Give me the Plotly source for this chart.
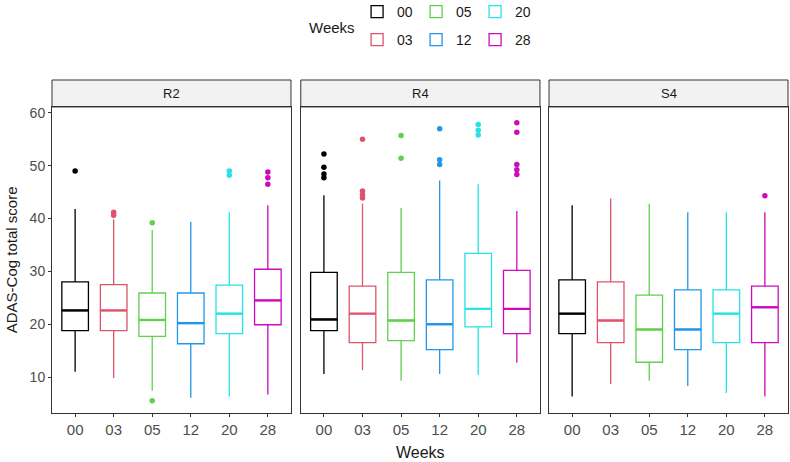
import plotly.graph_objects as go

weeks = ["00", "03", "05", "12", "20", "28"]
panels = ["R2", "R4", "S4"]
colors = ["#000000", "#DF536B", "#61D04F", "#2297E6", "#28E2E5", "#CD0BBC"]

# box stats per panel, one value per week
q1 = {
    "R2": [18.8, 18.8, 17.7, 16.3, 18.2, 19.9],
    "R4": [18.8, 16.5, 16.9, 15.2, 19.5, 18.2],
    "S4": [18.2, 16.5, 12.8, 15.2, 16.5, 16.5],
}
med = {
    "R2": [22.6, 22.6, 20.8, 20.2, 22.0, 24.5],
    "R4": [20.9, 22.0, 20.7, 20.0, 22.9, 22.9],
    "S4": [22.0, 20.7, 19.0, 19.0, 22.0, 23.2],
}
q3 = {
    "R2": [28.0, 27.5, 25.9, 25.9, 27.4, 30.4],
    "R4": [29.8, 27.2, 29.8, 28.4, 33.4, 30.2],
    "S4": [28.4, 28.0, 25.5, 26.5, 26.5, 27.2],
}
lo = {
    "R2": [11.0, 9.8, 7.4, 6.1, 6.3, 6.7],
    "R4": [10.6, 11.3, 9.3, 10.6, 10.4, 12.7],
    "S4": [6.3, 8.7, 9.3, 8.3, 7.0, 6.3],
}
hi = {
    "R2": [41.8, 39.8, 37.8, 39.4, 41.2, 42.5],
    "R4": [44.4, 42.8, 42.0, 47.2, 46.5, 41.4],
    "S4": [42.5, 43.8, 42.8, 41.2, 41.2, 41.2],
}
outliers = {
    "R2": [[49.0], [41.2, 40.6], [39.2, 5.5], [], [49.0, 48.2], [48.8, 47.7, 46.5]],
    "R4": [[52.2, 49.7, 48.4, 47.7], [55.0, 45.2, 44.5, 43.9], [55.7, 51.4],
           [57.0, 51.1, 50.2], [57.8, 56.7, 55.8], [58.1, 56.3, 50.2, 49.2, 48.3]],
    "S4": [[], [], [], [], [], [44.3]],
}

FONT = "Liberation Sans, Arial, sans-serif"
BOX_W = 0.69
fig = go.Figure()

for p_i, p in enumerate(panels):
    xa = "x" if p_i == 0 else f"x{p_i + 1}"
    ya = "y" if p_i == 0 else f"y{p_i + 1}"
    for w_i, w in enumerate(weeks):
        first = p_i == 0
        fig.add_trace(go.Box(
            x=[w_i], q1=[q1[p][w_i]], median=[med[p][w_i]], q3=[q3[p][w_i]],
            lowerfence=[lo[p][w_i]], upperfence=[hi[p][w_i]],
            name=w, legendgroup=w, showlegend=first,
            legend="legend" if w_i % 2 == 0 else "legend2",
            line=dict(color=colors[w_i], width=1.3),
            fillcolor="rgba(255,255,255,0)",
            width=BOX_W, whiskerwidth=0, boxpoints=False,
            xaxis=xa, yaxis=ya, hoverinfo="skip",
        ))
        # thicker median like ggplot
        fig.add_trace(go.Scatter(
            x=[w_i - BOX_W / 2, w_i + BOX_W / 2], y=[med[p][w_i]] * 2,
            mode="lines", line=dict(color=colors[w_i], width=2.4),
            showlegend=False, xaxis=xa, yaxis=ya, hoverinfo="skip",
        ))
        if outliers[p][w_i]:
            fig.add_trace(go.Scatter(
                x=[w_i] * len(outliers[p][w_i]), y=outliers[p][w_i],
                mode="markers", marker=dict(color=colors[w_i], size=5.5),
                showlegend=False, xaxis=xa, yaxis=ya, hoverinfo="skip",
            ))

domains = [[0, 0.3247], [0.3380, 0.6630], [0.6753, 1.0]]
ydom = [0, 0.919]
axis_common = dict(
    showline=True, mirror=True, linecolor="#333333", linewidth=1,
    showgrid=False, zeroline=False, ticks="outside", ticklen=3,
    tickcolor="#333333", tickfont=dict(size=15, color="#4D4D4D", family=FONT),
)
layout_axes = {}
for i in range(3):
    sfx = "" if i == 0 else str(i + 1)
    layout_axes[f"xaxis{sfx}"] = dict(
        axis_common, domain=domains[i], anchor=f"y{sfx}",
        tickvals=list(range(len(weeks))), ticktext=weeks,
        range=[-0.6, 5.6],
    )
    layout_axes[f"yaxis{sfx}"] = dict(
        axis_common, domain=ydom, anchor=f"x{sfx}", range=[3.2, 61.1],
        tickvals=[10, 20, 30, 40, 50, 60],
        showticklabels=(i == 0), ticks="outside" if i == 0 else "",
        tickfont=dict(size=14, color="#4D4D4D", family=FONT),
    )

shapes, annotations = [], []
for i, p in enumerate(panels):
    shapes.append(dict(
        type="rect", xref="paper", yref="paper",
        x0=domains[i][0], x1=domains[i][1], y0=ydom[1], y1=1.0,
        fillcolor="#F2F2F2", line=dict(color="#333333", width=1), layer="below",
    ))
    annotations.append(dict(
        text=p, xref="paper", yref="paper",
        x=(domains[i][0] + domains[i][1]) / 2, y=(ydom[1] + 1) / 2,
        xanchor="center", yanchor="middle",
        showarrow=False, font=dict(size=13, color="#1A1A1A", family=FONT),
    ))

annotations.append(dict(
    text="Weeks", xref="paper", yref="paper", x=0.5, y=-0.088,
    xanchor="center", yanchor="top", showarrow=False,
    font=dict(size=16, color="#1A1A1A", family=FONT),
))
annotations.append(dict(
    text="ADAS-Cog total score", xref="paper", yref="paper",
    x=-0.054, y=ydom[1] / 2, textangle=-90, showarrow=False,
    xanchor="center", yanchor="middle",
    font=dict(size=15, color="#1A1A1A", family=FONT),
))
annotations.append(dict(
    text="Weeks", xref="paper", yref="paper", x=0.4144, y=1.159,
    xanchor="right", yanchor="middle", showarrow=False,
    font=dict(size=15, color="#1A1A1A", family=FONT),
))

legend_common = dict(
    orientation="h", xref="container", yref="container",
    xanchor="left", yanchor="middle", bgcolor="rgba(0,0,0,0)",
    font=dict(size=14, color="#1A1A1A", family=FONT),
    entrywidth=14, entrywidthmode="pixels", itemwidth=30,
    tracegroupgap=0,
)

fig.update_layout(
    width=790, height=462,
    margin=dict(l=52, r=2, t=80, b=49),
    plot_bgcolor="white", paper_bgcolor="white",
    boxmode="overlay",
    shapes=shapes, annotations=annotations,
    legend=dict(legend_common, x=0.452, y=1 - 12 / 462),
    legend2=dict(legend_common, x=0.452, y=1 - 40 / 462),
    font=dict(family=FONT),
    **layout_axes,
)

fig.write_html("out.html", config={"displayModeBar": False},
               post_script="document.body.style.margin='0px';")
